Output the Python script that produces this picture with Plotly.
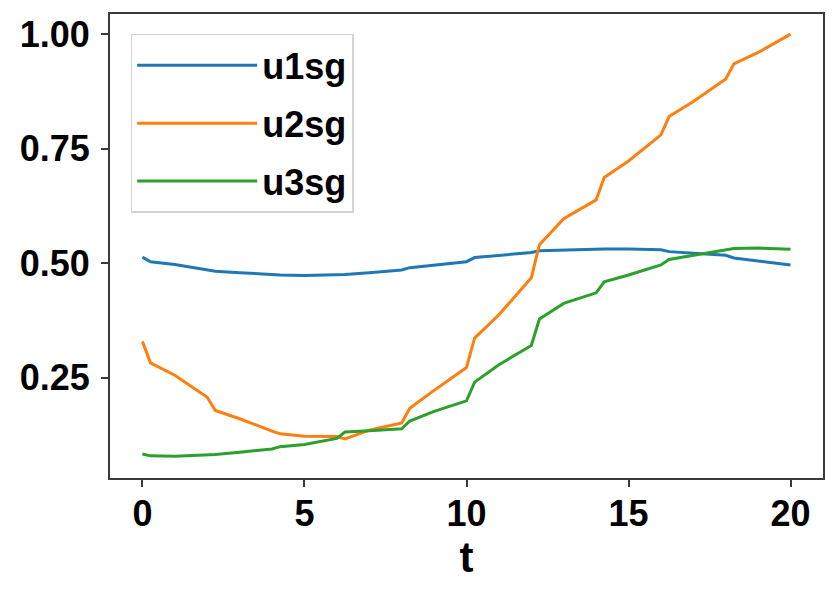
import plotly.graph_objects as go

t = [0, 0.25, 1, 2, 2.25, 3, 4, 4.25, 5, 6, 6.25, 7, 8, 8.25, 9, 10, 10.25, 11, 12,
     12.25, 13, 14, 14.25, 15, 16, 16.25, 17, 18, 18.25, 19, 20]

u1sg = [0.513, 0.503, 0.497, 0.486, 0.482, 0.479, 0.475, 0.474, 0.473, 0.474, 0.475,
        0.479, 0.485, 0.490, 0.496, 0.503, 0.512, 0.517, 0.523, 0.527, 0.529, 0.531,
        0.531, 0.531, 0.529, 0.525, 0.522, 0.517, 0.511, 0.505, 0.496]

u2sg = [0.329, 0.282, 0.255, 0.207, 0.178, 0.160, 0.133, 0.127, 0.122, 0.121, 0.116,
        0.135, 0.151, 0.183, 0.222, 0.272, 0.336, 0.387, 0.468, 0.540, 0.597, 0.638,
        0.687, 0.723, 0.780, 0.820, 0.853, 0.902, 0.935, 0.960, 1.000]

u3sg = [0.083, 0.079, 0.078, 0.080, 0.082, 0.087, 0.094, 0.099, 0.104, 0.117, 0.131,
        0.134, 0.138, 0.155, 0.176, 0.199, 0.240, 0.278, 0.320, 0.378, 0.412, 0.435,
        0.459, 0.474, 0.496, 0.508, 0.517, 0.528, 0.532, 0.533, 0.530]

names = ["u1sg", "u2sg", "u3sg"]
colors = ["#1f77b4", "#ff7f0e", "#2ca02c"]
x_ticks = [0, 5, 10, 15, 20]
y_ticks = [0.25, 0.50, 0.75, 1.00]
y_tick_text = ["0.25", "0.50", "0.75", "1.00"]

FONT = "Liberation Sans, Arial, sans-serif"
TICK_SIZE = 36

fig = go.Figure()
for name, ys, c in zip(names, [u1sg, u2sg, u3sg], colors):
    fig.add_trace(go.Scatter(x=t, y=ys, mode="lines", name=name, legendgroup=name,
                             line=dict(color=c, width=3)))

axis_common = dict(showline=True, linecolor="#3a3a3a", linewidth=2, mirror=True,
                   showgrid=False, zeroline=False, ticks="outside", ticklen=7,
                   tickwidth=1.5, tickcolor="#3a3a3a", automargin=False,
                   tickfont=dict(family=FONT, size=TICK_SIZE, color="black", weight="bold"))

# page body has an 8px margin, so the figure is sized to fit the 838x597 window
fig.update_layout(
    width=822, height=581,
    margin=dict(l=102, r=7, t=6, b=111),
    paper_bgcolor="white", plot_bgcolor="white",
    font=dict(family=FONT, color="black"),
    xaxis=dict(range=[-1.0, 21.0], tickvals=x_ticks, ticklabelstandoff=-4,
               title=dict(text="<b>t</b>", font=dict(family=FONT, size=42), standoff=4),
               **axis_common),
    yaxis=dict(range=[0.0306, 1.044], tickvals=y_ticks, ticktext=y_tick_text,
               ticklabelstandoff=4, **axis_common),
    legend=dict(x=0.029, y=0.957, xanchor="left", yanchor="top",
                bgcolor="rgba(255,255,255,0.8)", bordercolor="#d4d4d4", borderwidth=1.5,
                font=dict(family=FONT, size=TICK_SIZE, color="black", weight="bold"),
                tracegroupgap=8, itemwidth=120, traceorder="grouped"),
    showlegend=True,
)

fig.write_html("out.html")
